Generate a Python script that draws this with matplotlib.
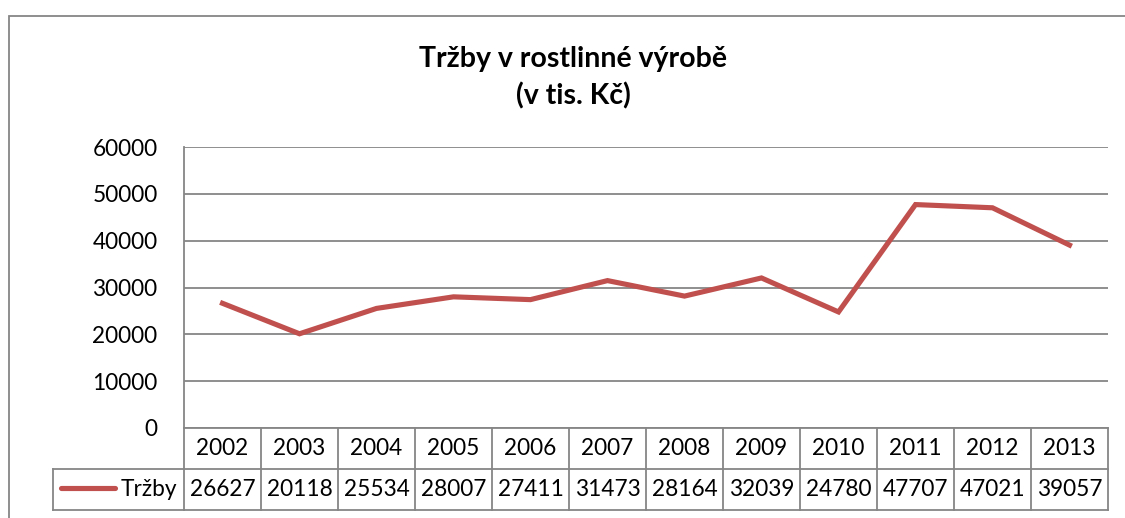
import matplotlib
matplotlib.use("Agg")
import matplotlib.pyplot as plt
from matplotlib.lines import Line2D
from matplotlib.patches import Rectangle
import matplotlib.transforms as mtransforms

years = ["2002", "2003", "2004", "2005", "2006", "2007", "2008", "2009", "2010", "2011", "2012", "2013"]
trzby = [26627, 20118, 25534, 28007, 27411, 31473, 28164, 32039, 24780, 47707, 47021, 39057]
yticks = [0, 10000, 20000, 30000, 40000, 50000, 60000]
series_name = "Tržby"
title = "Tržby v rostlinné výrobě\n(v tis. Kč)"

W, H = 1125, 518
plt.rcParams['font.family'] = ['Lato', 'DejaVu Sans']
fig = plt.figure(figsize=(W / 100, H / 100), dpi=100)

grid_c = "#868686"
line_c = "#C0504D"

# outer chart frame (extends beyond the image at right/bottom)
fig.patches.append(Rectangle((8.5 / W, -0.1), 1.2, (H - 16) / H + 0.1,
                             transform=fig.transFigure, fill=False,
                             edgecolor=grid_c, linewidth=1.3))

left, right, top, bottom = 184, 1108, 147, 428
ax = fig.add_axes([left / W, (H - bottom) / H, (right - left) / W, (bottom - top) / H])
x = list(range(len(years)))
ax.set_xlim(-0.5, len(years) - 0.5)
ax.set_ylim(0, 60000)
ax.set_yticks(yticks)
ax.set_yticklabels([str(v) for v in yticks], fontsize=16.3)
ax.tick_params(axis='y', length=0, pad=19)
ax.set_xticks([])
for s in ["top", "right", "bottom"]:
    ax.spines[s].set_visible(False)
ax.spines["left"].set_color(grid_c)
ax.spines["left"].set_linewidth(1.3)
ax.grid(axis='y', color=grid_c, linewidth=1.3)
ax.set_axisbelow(True)

ax.plot(x, trzby, color=line_c, linewidth=3.7, solid_joinstyle='miter', zorder=3, clip_on=False)

# data table
ph = bottom - top
r1 = -(469 - bottom) / ph
r2 = -(510 - bottom) / ph
tr = mtransforms.blended_transform_factory(ax.transData, ax.transAxes)
lkw = dict(color=grid_c, linewidth=1.3, clip_on=False)
# horizontal lines
ax.add_line(Line2D([-0.5, len(years) - 0.5], [r1, r1], transform=tr, **lkw))
ax.add_line(Line2D([-0.5, len(years) - 0.5], [r2, r2], transform=tr, **lkw))
ax.add_line(Line2D([-0.5, len(years) - 0.5], [0, 0], transform=tr, **lkw))
# vertical lines
for i in range(len(years) + 1):
    ax.add_line(Line2D([i - 0.5, i - 0.5], [r2, 0], transform=tr, **lkw))
# legend cell in axes coords
lx0 = (53 - left) / (right - left)
ax.add_line(Line2D([lx0, 0], [r1, r1], transform=ax.transAxes, **lkw))
ax.add_line(Line2D([lx0, 0], [r2, r2], transform=ax.transAxes, **lkw))
ax.add_line(Line2D([lx0, lx0], [r2, r1], transform=ax.transAxes, **lkw))

for i, (yr, v) in enumerate(zip(years, trzby)):
    ax.text(i, r1 / 2, yr, transform=tr, ha='center', va='center', fontsize=16.3)
    ax.text(i, (r1 + r2) / 2, str(v), transform=tr, ha='center', va='center', fontsize=16.3)

ax.add_line(Line2D([(61 - left) / (right - left), (115 - left) / (right - left)],
                   [(r1 + r2) / 2 + 0.005] * 2, transform=ax.transAxes,
                   color=line_c, linewidth=3.7, solid_capstyle='round', clip_on=False))
ax.text((177 - left) / (right - left), (r1 + r2) / 2, series_name, transform=ax.transAxes,
        ha='right', va='center', fontsize=16.3)

fig.text(573 / W, 1 - 78 / H, title, ha='center', va='center', fontsize=20.5,
         fontweight='bold', linespacing=1.45)

fig.savefig("out.png", dpi=100)
